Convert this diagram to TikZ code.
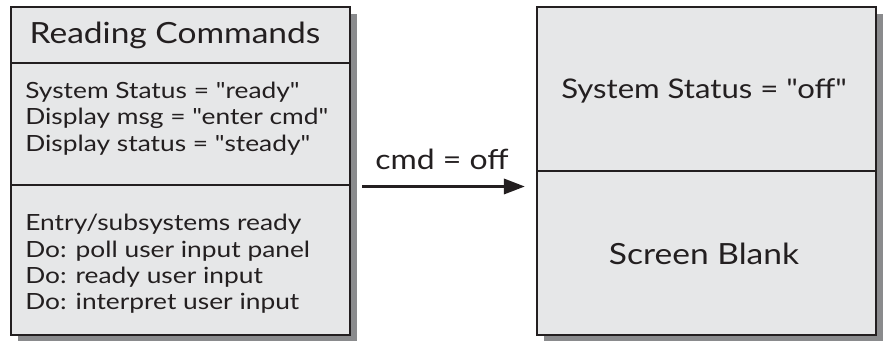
\documentclass[tikz,border=0pt]{standalone}
\usepackage{fontspec}
\setmainfont{Lato}[Ligatures=TeXOff]
\newfontfamily\headfont{Lato}[Ligatures=TeXOff, FakeStretch=1.15]
\newfontfamily\bodyfont{Lato}[Ligatures=TeXOff, FakeStretch=1.18]
\usetikzlibrary{positioning,shadows,arrows.meta}
\definecolor{boxfill}{HTML}{E6E7E8}
\definecolor{boxline}{HTML}{231F20}
\definecolor{shade}{HTML}{8A8B8D}

\begin{document}
\begin{tikzpicture}[x=0.02cm, y=0.02cm,
  statebox/.style={draw=boxline, line width=1.1pt, fill=boxfill,
    minimum width=6.78cm, minimum height=6.56cm, inner sep=0pt,
    drop shadow={opacity=1, fill=shade, shadow xshift=0.14cm, shadow yshift=-0.14cm}},
  divider/.style={draw=boxline, line width=1pt},
  bigtext/.style={font=\headfont\fontsize{16.6}{20}\selectfont, text=boxline, anchor=base, inner sep=0pt},
  listtext/.style={font=\bodyfont\fontsize{12.7}{15}\selectfont, text=boxline, anchor=base west, inner sep=0pt}]

\useasboundingbox (0,0) rectangle (883,341);

% the two states
\node[statebox] (reading) at (180.5,170) {};
\node[statebox] (off) at (706.5,170) {};

% compartments
\draw[divider] (reading.west |- 0,278) -- (reading.east |- 0,278);
\draw[divider] (reading.west |- 0,156) -- (reading.east |- 0,156);
\draw[divider] (off.west) -- (off.east);

\node[bigtext] (title) at (175,297.7) {Reading Commands};
\foreach \txt [count=\i] in {System Status = "ready", Display msg = "enter cmd",
    Display status = "steady"}
  \node[listtext] (var\i) at (25,242.7-26.4*\i+26.4) {\txt};
\foreach \txt [count=\i] in {Entry/subsystems ready, Do: poll user input panel,
    Do: ready user input, Do: interpret user input}
  \node[listtext] (act\i) at (25,110.3-26.4*\i+26.4) {\txt};

\node[bigtext, font=\headfont\fontsize{15.4}{20}\selectfont] (status) at (704,242) {System Status = "off"};
\node[bigtext] (blank) at (704,76) {Screen Blank};

% transition
\coordinate (from) at (362,154.5);
\coordinate (to) at (525,154.5);
\draw[line width=2pt, draw=boxline, -{Triangle[length=12pt, width=8.5pt]}] (from) -- (to);
\node[bigtext, font=\headfont\fontsize{15.8}{20}\selectfont] (event) at (442,171) {cmd = off};

\end{tikzpicture}
\end{document}
